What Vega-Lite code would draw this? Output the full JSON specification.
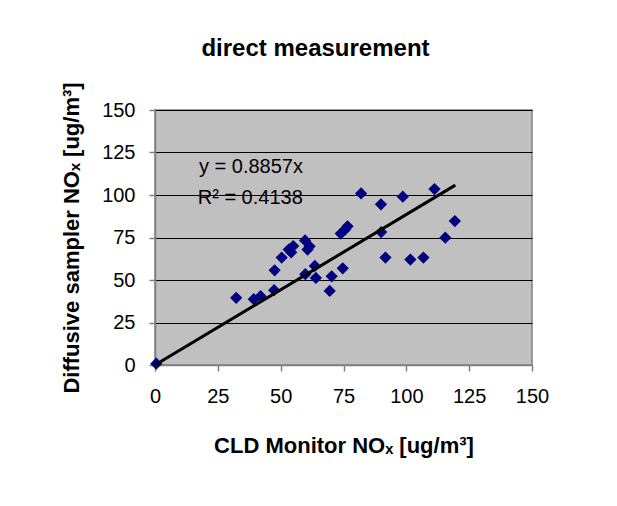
{
  "$schema": "https://vega.github.io/schema/vega-lite/v6.json",
  "autosize": "none",
  "width": 377,
  "height": 255,
  "padding": {"left": 155, "top": 110, "right": 85, "bottom": 141},
  "background": "white",
  "title": {
    "text": "direct  measurement",
    "font": "Liberation Sans",
    "fontSize": 24,
    "fontWeight": "bold",
    "color": "black",
    "anchor": "middle",
    "dx": -28,
    "offset": 21
  },
  "config": {
    "view": {"fill": "#C0C0C0", "stroke": "#808080", "strokeWidth": 1.5},
    "axis": {
      "labelFont": "Liberation Sans",
      "labelFontSize": 20,
      "labelColor": "black",
      "labelFlush": false,
      "labelOverlap": false,
      "titleFont": "Liberation Sans",
      "titleFontSize": 22,
      "titleFontWeight": "bold",
      "titleColor": "black",
      "domainColor": "#808080",
      "domainWidth": 1.5,
      "tickColor": "#808080",
      "tickWidth": 1.5
    }
  },
  "datasets": {
    "points": [
      {"cld": 0.5, "diff": 0.8},
      {"cld": 32.3, "diff": 39.5},
      {"cld": 39.3, "diff": 38.7},
      {"cld": 42, "diff": 40.5},
      {"cld": 47.4, "diff": 44},
      {"cld": 47.6, "diff": 55.7},
      {"cld": 50.4, "diff": 63.2},
      {"cld": 53.2, "diff": 67.9},
      {"cld": 54.2, "diff": 66.3},
      {"cld": 55, "diff": 70},
      {"cld": 59.7, "diff": 73.3},
      {"cld": 59.8, "diff": 53.4},
      {"cld": 60.7, "diff": 67.9},
      {"cld": 61.5, "diff": 69.8},
      {"cld": 63.6, "diff": 58.3},
      {"cld": 64, "diff": 51.2},
      {"cld": 69.5, "diff": 43.6},
      {"cld": 70.3, "diff": 52.2},
      {"cld": 73.9, "diff": 77.3},
      {"cld": 74.7, "diff": 56.9},
      {"cld": 75.6, "diff": 79.6},
      {"cld": 76.6, "diff": 81.6},
      {"cld": 82, "diff": 100.9},
      {"cld": 89.9, "diff": 94.5},
      {"cld": 90, "diff": 78.2},
      {"cld": 91.7, "diff": 63.2},
      {"cld": 98.6, "diff": 99},
      {"cld": 101.6, "diff": 62},
      {"cld": 106.8, "diff": 63.2},
      {"cld": 111.2, "diff": 103.5},
      {"cld": 115.5, "diff": 74.9},
      {"cld": 119.3, "diff": 84.7}
    ],
    "trend": [
      {"cld": 0, "diff": 0},
      {"cld": 119.5, "diff": 105.8}
    ],
    "notes": [
      {"cld": 17.5, "diff": 116.5, "label": "y = 0.8857x"},
      {"cld": 17, "diff": 98.5, "label": "R² = 0.4138"}
    ]
  },
  "encoding": {
    "x": {
      "field": "cld",
      "type": "quantitative",
      "scale": {"domain": [0, 150]},
      "axis": {
        "title": "CLD Monitor NOₓ [ug/m³]",
        "values": [0, 25, 50, 75, 100, 125, 150],
        "grid": false,
        "tickSize": 6,
        "labelPadding": 15,
        "titleY": 80,
        "titleBaseline": "middle"
      }
    },
    "y": {
      "field": "diff",
      "type": "quantitative",
      "scale": {"domain": [0, 150]},
      "axis": {
        "title": "Diffusive sampler NOₓ [ug/m³]",
        "values": [0, 25, 50, 75, 100, 125, 150],
        "grid": true,
        "gridColor": "black",
        "gridWidth": 1.2,
        "gridOpacity": 1,
        "tickSize": 6,
        "labelPadding": 14,
        "titleX": -84,
        "titleY": 127.5,
        "titleAngle": 270,
        "titleAlign": "center",
        "titleBaseline": "middle"
      }
    }
  },
  "layer": [
    {
      "data": {"name": "points"},
      "mark": {"type": "point", "shape": "diamond", "filled": true, "color": "#000080", "size": 150, "opacity": 1}
    },
    {
      "data": {"name": "trend"},
      "mark": {"type": "line", "color": "black", "strokeWidth": 3}
    },
    {
      "data": {"name": "notes"},
      "mark": {"type": "text", "align": "left", "baseline": "middle", "font": "Liberation Sans", "fontSize": 20, "color": "black"},
      "encoding": {"text": {"field": "label"}}
    }
  ]
}
